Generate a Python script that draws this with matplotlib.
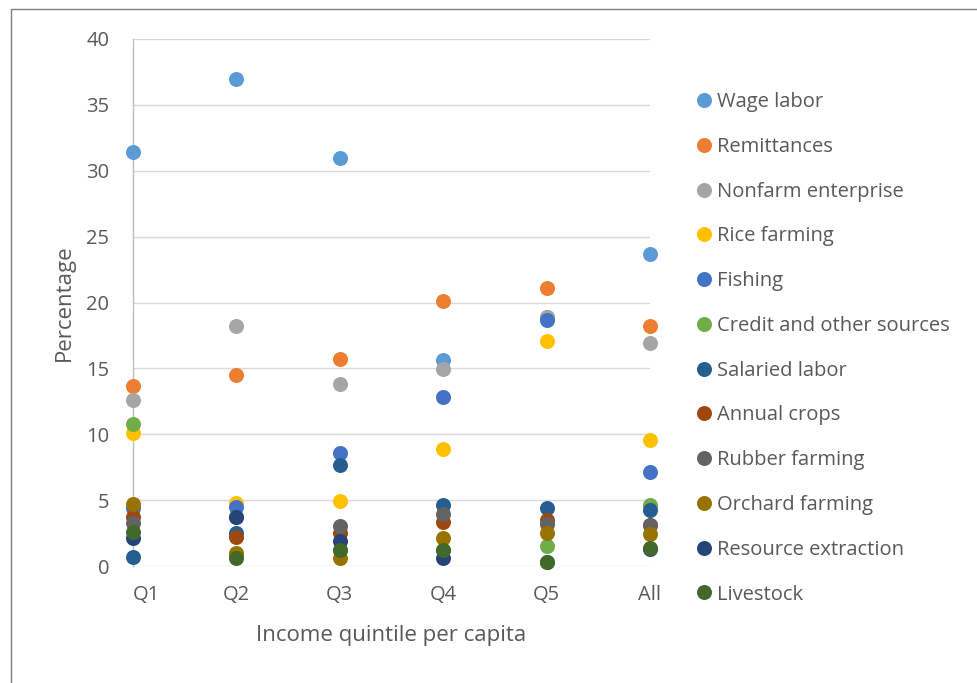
import matplotlib
matplotlib.use("Agg")
import matplotlib.pyplot as plt
from matplotlib.patches import Rectangle

categories = ["Q1", "Q2", "Q3", "Q4", "Q5", "All"]

wage_labor = [31.4, 37.0, 31.0, 15.6, 18.9, 23.7]
remittances = [13.7, 14.5, 15.7, 20.1, 21.1, 18.2]
nonfarm_enterprise = [12.6, 18.2, 13.8, 14.95, 18.9, 16.9]
rice_farming = [10.1, 4.75, 4.9, 8.85, 17.1, 9.55]
fishing = [4.4, 4.45, 8.6, 12.8, 18.65, 7.1]
credit_other = [10.8, 0.9, 1.2, 1.2, 1.55, 4.6]
salaried_labor = [0.7, 2.5, 7.7, 4.6, 4.4, 4.25]
annual_crops = [3.75, 2.2, 2.5, 3.35, 3.5, 3.1]
rubber_farming = [3.3, 3.7, 3.0, 3.95, 3.2, 3.1]
orchard_farming = [4.7, 0.95, 0.6, 2.1, 2.5, 2.4]
resource_extraction = [2.1, 3.75, 1.9, 0.6, 0.3, 1.3]
livestock = [2.6, 0.6, 1.25, 1.2, 0.3, 1.35]

series_names = ["Wage labor", "Remittances", "Nonfarm enterprise", "Rice farming",
                "Fishing", "Credit and other sources", "Salaried labor", "Annual crops",
                "Rubber farming", "Orchard farming", "Resource extraction", "Livestock"]
series_values = [wage_labor, remittances, nonfarm_enterprise, rice_farming, fishing,
                 credit_other, salaried_labor, annual_crops, rubber_farming,
                 orchard_farming, resource_extraction, livestock]
colors = ["#5B9BD5", "#ED7D31", "#A5A5A5", "#FFC000", "#4472C4", "#70AD47",
          "#255E91", "#9E480E", "#636363", "#997300", "#264478", "#43682B"]

plt.rcParams['font.family'] = ['Open Sans', 'DejaVu Sans']
text_color = "#595959"

W, H = 978, 683
fig = plt.figure(figsize=(W / 100, H / 100), dpi=100)
left, right, top, bottom = 133, 650, 39, 566
ax = fig.add_axes([left / W, 1 - bottom / H, (right - left) / W, (bottom - top) / H])

x = list(range(len(categories)))
for name, vals, c in zip(series_names, series_values, colors):
    ax.plot(x, vals, linestyle="none", marker="o", markersize=10.8,
            markerfacecolor=c, markeredgecolor=c, markeredgewidth=0,
            label=name, clip_on=False, zorder=3)

ax.set_xlim(0, len(categories) - 1)
ax.set_ylim(0, 40)
ax.set_yticks(range(0, 41, 5))
ax.set_xticks(x)
ax.set_xticklabels(categories)
ax.tick_params(axis="both", length=0, labelsize=14.5, colors=text_color)
ax.tick_params(axis="y", pad=17)
ax.tick_params(axis="x", pad=14)
xt = ax.get_xticklabels()
xt[0].set_ha("left")
ax.grid(axis="y", color="#D9D9D9", linewidth=1.0, zorder=0)
ax.set_axisbelow(True)
for s in ["top", "right", "bottom"]:
    ax.spines[s].set_visible(False)
ax.spines["left"].set_color("#BFBFBF")
ax.spines["left"].set_linewidth(1.0)

ax.set_ylabel("Percentage", fontsize=16, color=text_color, labelpad=8)
ax.set_xlabel("Income quintile per capita", fontsize=16, color=text_color, labelpad=14)

leg = fig.legend(loc="upper left", bbox_to_anchor=(686 / W, 1 - 84 / H),
                 frameon=False, fontsize=14.5, labelspacing=1.23, handletextpad=0.15,
                 handlelength=1.0, borderaxespad=0)
for t in leg.get_texts():
    t.set_color(text_color)

fig.patches.append(Rectangle((11 / W, -0.1), 1.2, 1 - 9 / H + 0.1, transform=fig.transFigure,
                             fill=False, edgecolor="#7F7F7F", linewidth=1.0))

fig.savefig("out.png", dpi=100)
